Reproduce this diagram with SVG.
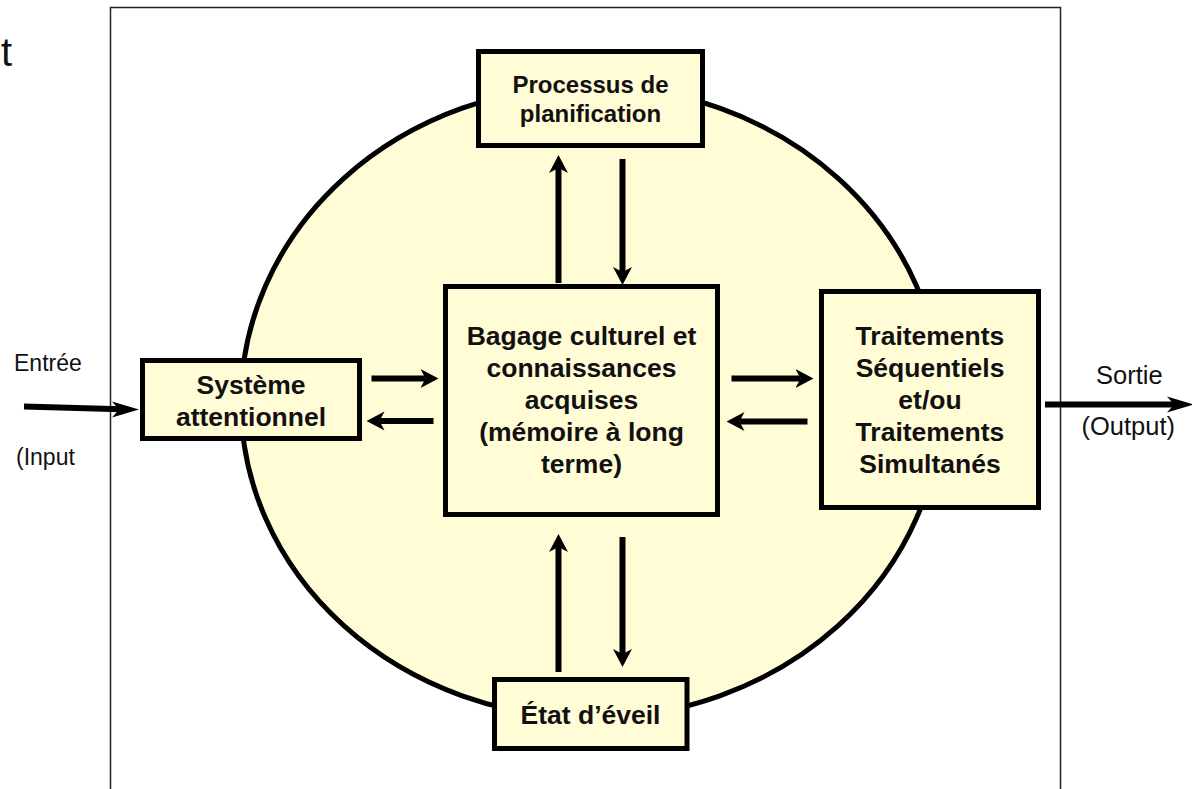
<svg xmlns="http://www.w3.org/2000/svg" width="1192" height="789" viewBox="0 0 1192 789">
<style>
.box{fill:#FFFCD6;stroke:#000;stroke-width:5}
.t{font-family:"Liberation Sans",Arial,sans-serif;font-weight:bold;fill:#111;text-anchor:middle}
.lbl{font-family:"Liberation Sans",Arial,sans-serif;fill:#111}
.arr{stroke:#000;stroke-width:6;fill:none;marker-end:url(#ah)}
</style>
<defs>
<marker id="ah" markerUnits="userSpaceOnUse" viewBox="0 -10 18 20" refX="5" refY="0" markerWidth="18" markerHeight="20" orient="auto">
<path d="M0,-9.5 L18,0 L0,9.5 L5,0 Z" fill="#000"/>
</marker>
</defs>
<rect x="0" y="0" width="1192" height="789" fill="#fff"/>
<text class="lbl" x="1" y="66" font-size="40">t</text>
<rect id="frame" x="110.5" y="7.5" width="950" height="800" fill="none" stroke="#222" stroke-width="1.5"/>
<ellipse id="circle" cx="591" cy="402" rx="350" ry="316" fill="#FFFCD6" stroke="#000" stroke-width="5"/>

<g id="connectors">
<line class="arr" x1="558.5" y1="283" x2="558.5" y2="168"/>
<line class="arr" x1="622.5" y1="159" x2="622.5" y2="272"/>
<line class="arr" x1="558.5" y1="672" x2="558.5" y2="547"/>
<line class="arr" x1="622.5" y1="537" x2="622.5" y2="654"/>
<line class="arr" x1="371.5" y1="378.5" x2="425.5" y2="378.5"/>
<line class="arr" x1="433.5" y1="421" x2="379.5" y2="421"/>
<line class="arr" x1="731.5" y1="378.5" x2="800.5" y2="378.5"/>
<line class="arr" x1="807.5" y1="421.5" x2="739.5" y2="421.5"/>
<g id="input-arrow">
<line x1="24" y1="406.5" x2="121" y2="409.3" stroke="#000" stroke-width="6"/>
<path d="M112,401.5 L139,409.5 L112,417.5 L119,409.5 Z" fill="#000"/>
</g>
<g id="output-arrow">
<line x1="1045" y1="404.5" x2="1176" y2="404.5" stroke="#000" stroke-width="6"/>
<path d="M1167,396.5 L1194,404.5 L1167,412.5 L1174,404.5 Z" fill="#000"/>
</g>
</g>

<g id="planification">
<rect class="box" x="478.5" y="51.5" width="224" height="94"/>
<text class="t" font-size="24" x="590.5" y="93">Processus de</text>
<text class="t" font-size="24" x="590.5" y="122">planification</text>
</g>
<g id="bagage">
<rect class="box" x="445.5" y="286.5" width="272" height="228"/>
<text class="t" font-size="26.5" x="581.5" y="345">Bagage culturel et</text>
<text class="t" font-size="26.5" x="581.5" y="377">connaissances</text>
<text class="t" font-size="26.5" x="581.5" y="409">acquises</text>
<text class="t" font-size="26.5" x="581.5" y="441">(mémoire à long</text>
<text class="t" font-size="26.5" x="581.5" y="473">terme)</text>
</g>
<g id="systeme">
<rect class="box" x="142.5" y="360.5" width="217" height="78"/>
<text class="t" font-size="26.5" x="251" y="394">Système</text>
<text class="t" font-size="26.5" x="251" y="426">attentionnel</text>
</g>
<g id="traitements">
<rect class="box" x="821.5" y="291.5" width="217" height="216"/>
<text class="t" font-size="26.5" x="930" y="345">Traitements</text>
<text class="t" font-size="26.5" x="930" y="377">Séquentiels</text>
<text class="t" font-size="26.5" x="930" y="409">et/ou</text>
<text class="t" font-size="26.5" x="930" y="441">Traitements</text>
<text class="t" font-size="26.5" x="930" y="473">Simultanés</text>
</g>
<g id="eveil">
<rect class="box" x="494.5" y="679.5" width="192.5" height="69"/>
<text class="t" font-size="26.5" x="590.5" y="723.5">État d’éveil</text>
</g>

<g id="labels">
<text class="lbl" font-size="23" x="14" y="371">Entrée</text>
<text class="lbl" font-size="23" x="16" y="465">(Input</text>
<text class="lbl" font-size="25.5" x="1096" y="383.5">Sortie</text>
<text class="lbl" font-size="25.5" x="1081.5" y="435">(Output)</text>
</g>
</svg>
